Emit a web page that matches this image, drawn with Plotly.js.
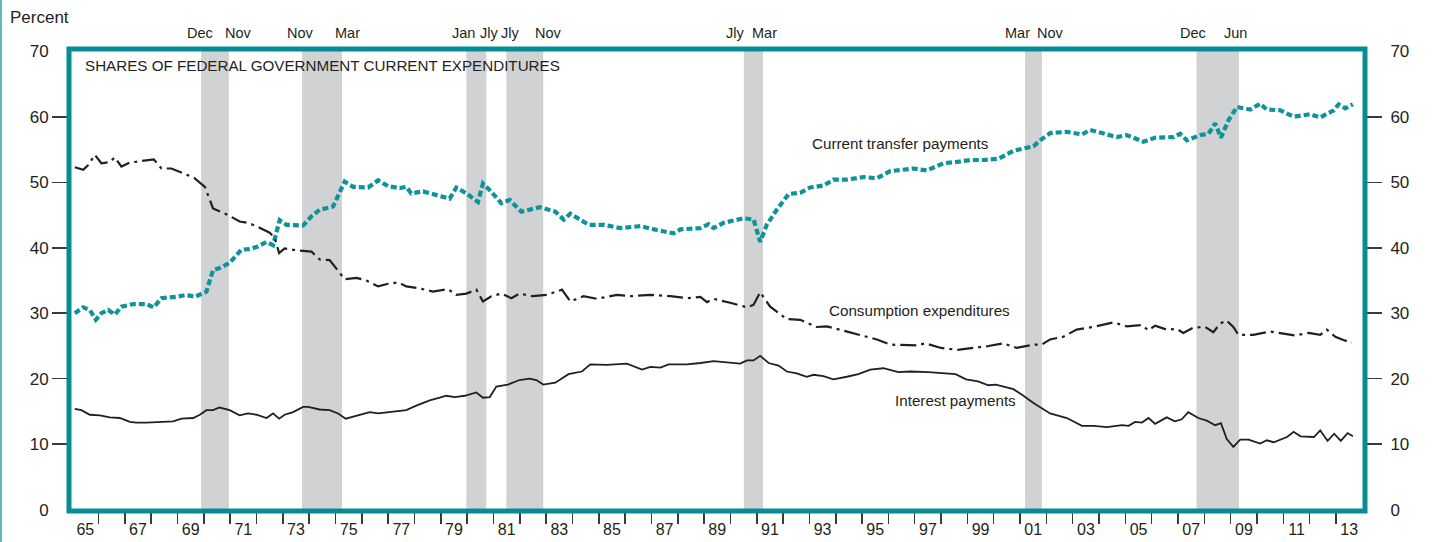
<!DOCTYPE html>
<html><head><meta charset="utf-8">
<script src="https://cdn.plot.ly/plotly-3.0.1.min.js"></script>
<style>html,body{margin:0;padding:0;background:#fff}#chart{width:1432px;height:542px}</style>
</head><body><div id="chart"></div><script>
// ---- data (decimal years, percent of federal current expenditures) ----
const transferYears = [1965.1,1965.42,1965.67,1965.9,1966.11,1966.37,1966.62,1966.87,1967.32,1967.82,1968.1,1968.39,1968.96,1969.34,1969.66,1970.1,1970.35,1970.6,1970.98,1971.43,1971.74,1972.06,1972.38,1972.63,1972.88,1973.14,1973.77,1974.09,1974.4,1974.91,1975.35,1975.67,1976.24,1976.62,1977.0,1977.44,1977.69,1977.88,1978.33,1978.83,1979.34,1979.59,1979.97,1980.41,1980.6,1980.86,1981.3,1981.62,1982.06,1982.76,1983.35,1983.67,1983.92,1984.62,1985.18,1985.82,1986.58,1987.21,1987.84,1988.1,1988.86,1989.17,1989.36,1989.74,1990.5,1990.88,1991.13,1991.38,1991.76,1992.21,1992.65,1993.03,1993.54,1993.91,1994.42,1995.05,1995.56,1996.07,1996.95,1997.46,1998.09,1998.6,1999.11,1999.61,2000.18,2000.75,2001.51,2001.76,2002.14,2002.78,2003.35,2003.66,2004.17,2004.67,2005.05,2005.69,2006.13,2006.83,2007.08,2007.34,2007.84,2008.16,2008.41,2008.63,2008.92,2009.24,2009.74,2010.12,2010.37,2010.88,2011.39,2012.02,2012.4,2012.91,2013.1,2013.35,2013.64];
const transferShare = [30.0,30.9,30.5,29.0,30.0,30.5,29.8,31.0,31.4,31.4,30.9,32.3,32.5,32.8,32.5,33.3,36.6,36.9,37.7,39.7,39.8,40.2,40.9,40.4,44.2,43.5,43.4,44.8,45.8,46.3,50.1,49.3,49.2,50.3,49.4,49.1,49.3,48.3,48.6,48.1,47.5,49.2,48.3,47.0,49.8,48.8,46.8,47.3,45.5,46.2,45.5,44.3,45.2,43.5,43.5,43.0,43.3,42.7,42.2,42.8,43.0,43.6,43.0,43.8,44.5,44.3,40.9,43.5,45.8,48.2,48.4,49.2,49.5,50.4,50.4,50.8,50.6,51.7,52.1,51.8,52.9,53.1,53.4,53.4,53.6,54.8,55.5,56.4,57.5,57.7,57.3,58.0,57.5,56.9,57.2,56.2,56.8,56.9,57.4,56.4,57.2,57.4,59.0,56.8,59.5,61.5,61.1,62.0,61.1,61.0,60.0,60.4,59.9,61.0,61.9,61.3,61.9];

const consumptionYears = [1965.1,1965.42,1965.6,1965.86,1966.11,1966.43,1966.62,1966.87,1967.19,1967.69,1968.1,1968.39,1968.77,1969.21,1969.66,1970.04,1970.35,1970.92,1971.36,1971.68,1972.0,1972.5,1972.69,1972.86,1973.07,1973.52,1974.09,1974.4,1974.78,1975.35,1975.8,1976.17,1976.62,1977.0,1977.38,1977.69,1978.2,1978.7,1979.27,1979.59,1979.97,1980.35,1980.6,1980.92,1981.3,1981.68,1981.99,1982.5,1983.03,1983.6,1983.92,1984.42,1984.93,1985.69,1986.2,1986.96,1987.72,1988.35,1988.86,1989.11,1989.36,1989.99,1990.63,1990.88,1991.13,1991.51,1992.14,1992.65,1993.28,1993.66,1994.42,1995.05,1995.56,1996.07,1996.57,1997.08,1997.4,1998.0,1998.63,1999.27,1999.8,2000.37,2000.87,2001.51,2001.82,2002.14,2002.64,2003.15,2003.78,2004.54,2005.05,2005.62,2005.87,2006.13,2006.57,2006.95,2007.2,2007.58,2008.03,2008.34,2008.59,2008.84,2009.1,2009.29,2009.86,2010.49,2011.0,2011.44,2011.95,2012.4,2012.65,2012.97,2013.28,2013.6];
const consumptionShare = [52.3,51.9,52.6,54.2,52.9,53.1,53.8,52.4,53.0,53.3,53.5,52.1,52.1,51.4,50.6,49.3,46.0,45.0,44.0,43.8,43.3,42.3,41.5,39.2,39.9,39.6,39.4,38.2,38.1,35.2,35.4,35.0,34.1,34.5,34.7,34.1,33.8,33.3,33.7,32.8,33.0,33.6,31.8,32.6,33.0,32.3,33.0,32.6,32.8,33.6,31.8,32.6,32.2,32.8,32.6,32.8,32.6,32.3,32.5,31.7,32.2,31.6,30.9,31.3,33.2,31.0,29.1,29.0,27.9,28.0,27.2,26.5,26.0,25.2,25.2,25.1,25.4,24.7,24.4,24.7,25.0,25.4,24.7,25.2,25.2,26.0,26.4,27.5,27.9,28.6,28.0,28.2,27.4,28.1,27.5,27.6,27.0,27.8,27.9,27.1,28.4,28.9,27.9,26.7,26.7,27.2,26.9,26.6,27.0,26.7,27.5,26.4,25.9,25.5];

const interestYears = [1965.1,1965.35,1965.67,1966.05,1966.43,1966.81,1967.19,1967.44,1967.82,1968.2,1968.84,1969.15,1969.6,1969.85,1970.1,1970.35,1970.6,1970.98,1971.36,1971.68,1972.0,1972.38,1972.63,1972.86,1973.07,1973.39,1973.77,1973.96,1974.4,1974.78,1975.1,1975.39,1975.8,1976.3,1976.62,1977.06,1977.69,1978.07,1978.58,1978.96,1979.21,1979.53,1979.91,1980.35,1980.6,1980.86,1981.11,1981.55,1981.99,1982.37,1982.63,1982.89,1983.35,1983.85,1984.36,1984.68,1985.31,1986.07,1986.64,1986.96,1987.34,1987.65,1988.35,1988.86,1989.36,1990.37,1990.63,1990.88,1991.13,1991.45,1991.83,1992.14,1992.52,1992.9,1993.15,1993.53,1993.91,1994.42,1994.86,1995.31,1995.81,1996.38,1996.83,1997.52,1997.84,1998.55,1998.95,1999.4,1999.8,2000.08,2000.75,2001.06,2001.51,2001.76,2002.14,2002.78,2003.35,2003.79,2004.3,2004.87,2005.12,2005.37,2005.63,2005.88,2006.13,2006.57,2006.88,2007.14,2007.39,2007.77,2008.09,2008.41,2008.63,2008.85,2009.1,2009.36,2009.68,2010.12,2010.37,2010.63,2011.14,2011.39,2011.65,2012.16,2012.4,2012.68,2012.93,2013.18,2013.44,2013.64];
const interestShare = [15.4,15.2,14.5,14.4,14.1,14.0,13.4,13.3,13.3,13.4,13.5,13.9,14.0,14.5,15.2,15.2,15.6,15.2,14.4,14.7,14.5,14.0,14.7,13.9,14.5,14.9,15.7,15.7,15.3,15.2,14.7,13.9,14.4,14.9,14.7,14.9,15.2,15.9,16.7,17.1,17.4,17.2,17.4,17.9,17.1,17.2,18.8,19.1,19.8,20.0,19.8,19.1,19.4,20.7,21.1,22.2,22.1,22.3,21.4,21.8,21.7,22.2,22.2,22.4,22.7,22.3,22.8,22.8,23.5,22.4,22.0,21.1,20.8,20.3,20.6,20.4,19.9,20.3,20.7,21.4,21.6,21.0,21.1,21.0,20.9,20.7,19.9,19.6,19.0,19.1,18.4,17.6,16.3,15.7,14.7,14.0,12.8,12.8,12.6,12.9,12.8,13.4,13.3,14.0,13.1,14.1,13.5,13.8,14.9,14.0,13.6,12.9,13.2,10.8,9.6,10.7,10.7,10.1,10.6,10.3,11.1,11.9,11.2,11.1,12.1,10.5,11.6,10.5,11.7,11.2];

const recessionStart = [1969.90, 1973.73, 1979.97, 1981.49, 1990.51, 2001.19, 2007.70];
const recessionEnd   = [1970.95, 1975.25, 1980.73, 1982.89, 1991.24, 2001.83, 2009.31];
const recessionStartLabel = ['Dec','Nov','Jan','Jly','Jly','Mar','Dec'];
const recessionEndLabel   = ['Nov','Mar','Jly','Nov','Mar','Nov','Jun'];

const yearTickLabels = ['65','67','69','71','73','75','77','79','81','83','85','87','89','91','93','95','97','99','01','03','05','07','09','11','13'];
const yTickValues = [10,20,30,40,50,60];
const yEndValues = [0,70];

const seriesNames = ['Current transfer payments','Consumption expenditures','Interest payments'];
const chartTitle = 'SHARES OF FEDERAL GOVERNMENT CURRENT EXPENDITURES';

// ---- styling / layout ----
const TEAL = '#078c95';
const LINE_TEAL = '#0f939b';
const INK = '#231f20';
const FONT = 'Liberation Sans, Arial, Helvetica, sans-serif';
const XR = [1964.88, 2014.1];
const YR = [-0.2, 70.35];

const firstLabelYear = 1965;
const labelYears = yearTickLabels.map((_, i) => firstLabelYear + 2 * i + 0.5);
const boundaryYears = [];
for (let y = 1966; y <= 2013; y++) boundaryYears.push(y);

const traces = [
  {x: transferYears, y: transferShare, type: 'scatter', mode: 'lines', name: seriesNames[0],
   line: {color: LINE_TEAL, width: 4.2, dash: '6px,3px'}, hoverinfo: 'skip'},
  {x: consumptionYears, y: consumptionShare, type: 'scatter', mode: 'lines', name: seriesNames[1],
   line: {color: INK, width: 2.2, dash: '16px,5px,3px,5px'}, hoverinfo: 'skip'},
  {x: interestYears, y: interestShare, type: 'scatter', mode: 'lines', name: seriesNames[2],
   line: {color: INK, width: 1.8}, hoverinfo: 'skip'},
  {x: [], y: [], xaxis: 'x2', yaxis: 'y', showlegend: false, hoverinfo: 'skip'},
  {x: [], y: [], xaxis: 'x', yaxis: 'y2', showlegend: false, hoverinfo: 'skip'},
  {x: [], y: [], xaxis: 'x', yaxis: 'y3', showlegend: false, hoverinfo: 'skip'},
  {x: [], y: [], xaxis: 'x', yaxis: 'y4', showlegend: false, hoverinfo: 'skip'}
];

const shapes = [];
recessionStart.forEach((s, i) => {
  shapes.push({type: 'rect', xref: 'x', yref: 'paper', x0: s, x1: recessionEnd[i], y0: 0, y1: 1,
    fillcolor: '#d1d2d4', line: {width: 0}, layer: 'below'});
});
shapes.push({type: 'rect', xref: 'paper', yref: 'paper', x0: 0, x1: 1, y0: 0, y1: 1,
  line: {color: TEAL, width: 5}, fillcolor: 'rgba(0,0,0,0)', layer: 'above'});
// thin page-edge rule at the far left
shapes.push({type: 'line', xref: 'paper', yref: 'paper', x0: -0.0525, x1: -0.0525, y0: -0.08, y1: 1.12,
  line: {color: '#5fb7bd', width: 2}});

const monthFont = {family: FONT, size: 14.5, color: INK};
const startNudge = [-1, -2, -3, 4, -9, -8, -3];
const endNudge = [10, 5, 3, 5, 1, 9, -3];
const annotations = [];
recessionStart.forEach((s, i) => {
  annotations.push({x: s, xref: 'x', y: 1.0346, yref: 'paper', text: recessionStartLabel[i],
    showarrow: false, xanchor: 'center', yanchor: 'middle', xshift: startNudge[i], font: monthFont});
  annotations.push({x: recessionEnd[i], xref: 'x', y: 1.0346, yref: 'paper', text: recessionEndLabel[i],
    showarrow: false, xanchor: 'center', yanchor: 'middle', xshift: endNudge[i], font: monthFont});
});
const inFont = {family: FONT, size: 15.2, color: INK};
annotations.push({x: 1965.42, y: 67.9, xref: 'x', yref: 'y', text: chartTitle, showarrow: false,
  xanchor: 'left', yanchor: 'middle', font: inFont});
annotations.push({x: 1993.03, y: 55.85, xref: 'x', yref: 'y', text: seriesNames[0], showarrow: false,
  xanchor: 'left', yanchor: 'middle', font: inFont});
annotations.push({x: 1993.68, y: 30.35, xref: 'x', yref: 'y', text: seriesNames[1], showarrow: false,
  xanchor: 'left', yanchor: 'middle', font: inFont});
annotations.push({x: 1996.19, y: 16.6, xref: 'x', yref: 'y', text: seriesNames[2], showarrow: false,
  xanchor: 'left', yanchor: 'middle', font: inFont});
annotations.push({x: -0.047, y: 1.069, xref: 'paper', yref: 'paper', text: 'Percent', showarrow: false,
  xanchor: 'left', yanchor: 'middle', font: {family: FONT, size: 17, color: INK}});

const tickFont = {family: FONT, size: 17, color: INK};
const baseY = {range: YR, showgrid: false, zeroline: false, showline: false, fixedrange: true,
  ticks: 'outside', ticklen: 16, tickwidth: 1.5, tickcolor: '#3a3a3a', tickfont: tickFont};

const layout = {
  width: 1432, height: 542,
  margin: {l: 69, r: 67, t: 49, b: 31, pad: 0},
  paper_bgcolor: '#ffffff', plot_bgcolor: '#ffffff',
  showlegend: false,
  xaxis: {range: XR, showgrid: false, zeroline: false, showline: false, fixedrange: true,
    tickmode: 'array', tickvals: boundaryYears, showticklabels: false,
    ticks: 'outside', ticklen: 12, tickwidth: 1.5, tickcolor: '#3a3a3a'},
  xaxis2: {range: XR, overlaying: 'x', anchor: 'y', side: 'bottom', showgrid: false, zeroline: false,
    showline: false, fixedrange: true, tickmode: 'array', tickvals: labelYears, ticktext: yearTickLabels,
    ticks: 'outside', ticklen: 4, tickcolor: 'rgba(0,0,0,0)', tickfont: {family: FONT, size: 16, color: INK}},
  yaxis: Object.assign({}, baseY, {tickmode: 'array', tickvals: yTickValues, side: 'left'}),
  yaxis2: Object.assign({}, baseY, {tickmode: 'array', tickvals: yTickValues, side: 'right', overlaying: 'y', anchor: 'x', ticklabelstandoff: 5}),
  yaxis3: Object.assign({}, baseY, {tickmode: 'array', tickvals: yEndValues, side: 'left', overlaying: 'y', anchor: 'x', tickcolor: 'rgba(0,0,0,0)'}),
  yaxis4: Object.assign({}, baseY, {tickmode: 'array', tickvals: yEndValues, side: 'right', overlaying: 'y', anchor: 'x', tickcolor: 'rgba(0,0,0,0)', ticklabelstandoff: 5}),
  shapes: shapes,
  annotations: annotations
};

Plotly.newPlot('chart', traces, layout, {staticPlot: true, displayModeBar: false});
</script></body></html>
